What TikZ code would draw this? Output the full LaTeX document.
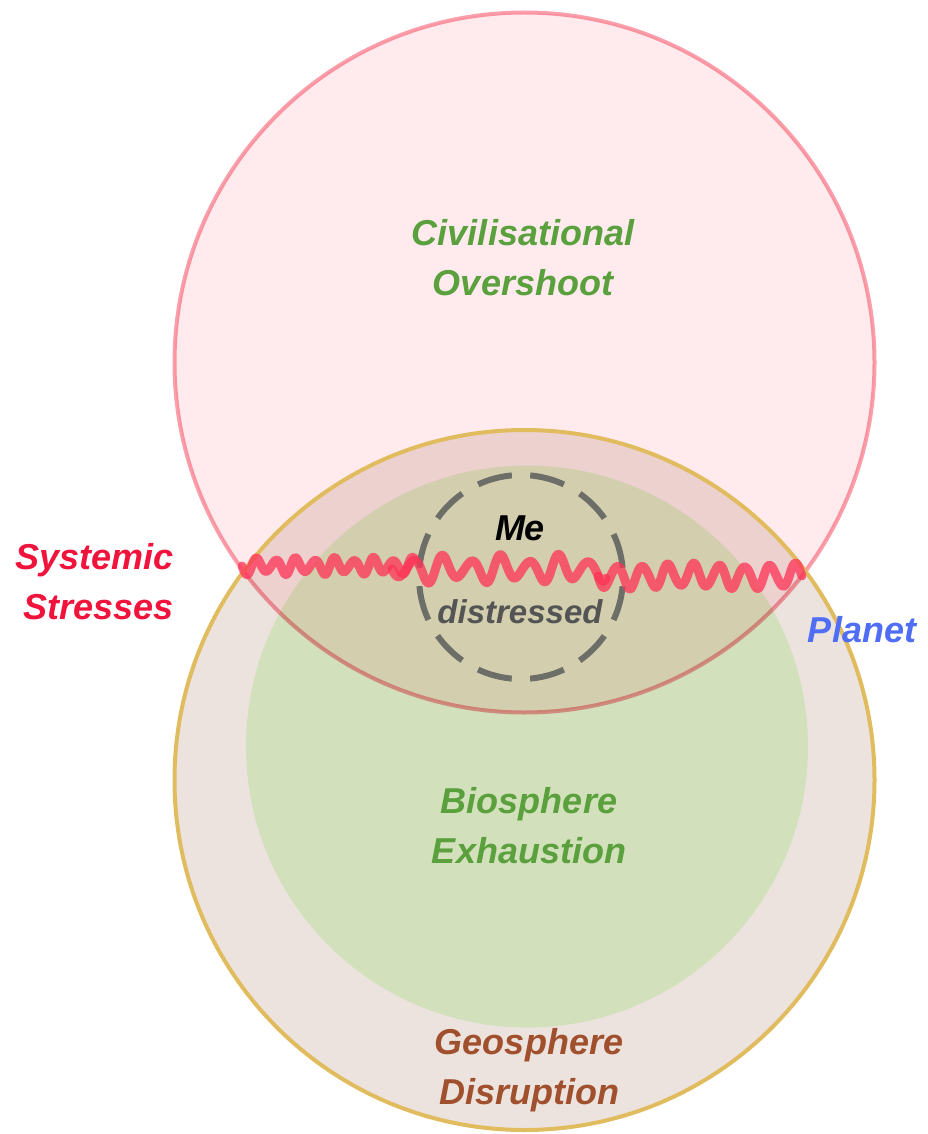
\documentclass[tikz,border=0pt]{standalone}
\usepackage{fontspec}
\setmainfont{Liberation Sans}
\definecolor{civpink}{RGB}{255,235,237}
\definecolor{civline}{RGB}{250,160,172}
\definecolor{geotan}{RGB}{236,227,222}
\definecolor{geogold}{RGB}{225,188,95}
\definecolor{biogreen}{RGB}{211,224,188}
\definecolor{labgreen}{RGB}{90,160,60}
\definecolor{labred}{RGB}{240,20,60}
\definecolor{labblue}{RGB}{80,110,245}
\definecolor{labbrown}{RGB}{160,80,45}
\definecolor{megray}{RGB}{110,110,105}
\definecolor{stressred}{RGB}{255,50,85}
\begin{document}
\begin{tikzpicture}[x=1pt,y=-1pt]
\tikzset{
    sphere label/.style={font=\fontsize{36}{50}\selectfont\bfseries\itshape, align=center, inner sep=0pt},
    civ circle/.style={fill=civpink, draw=civline, line width=4pt},
    geo circle/.style={fill=geotan},
    geo rim/.style={draw=geogold, line width=4pt},
    bio circle/.style={fill=biogreen},
    me circle/.style={draw=megray, line width=6pt, dash pattern=on 35pt off 18.4pt, dash phase=44.2pt},
    stress/.style={draw=stressred, draw opacity=.75, line width=9pt, line cap=round, line join=round}}
\def\rbig{350pt}
\def\rbio{281pt}
\def\rme{102pt}

\useasboundingbox (0,0) rectangle (927,1134);

\coordinate (civ) at (524.5,362.5);
\coordinate (geo) at (524.5,780);
\coordinate (bio) at (527,746.5);
\coordinate (me) at (521,577);

% spheres
\path[geo circle] (geo) circle[radius=\rbig];
\path[bio circle] (bio) circle[radius=\rbio];
\begin{scope}[blend mode=multiply]
\path[civ circle] (civ) circle[radius=\rbig];
\end{scope}
\path[geo rim] (geo) circle[radius=\rbig];

% me
\path[me circle] (me) circle[radius=\rme];

% systemic stresses
\draw[stress] plot[domain=242:415, samples=180, smooth] (\x, {566+(7+2*sin(\x*9))*sin((\x-242)/19.5*360)});
\draw[stress] plot[domain=392:606, samples=220, smooth] (\x, {569+(11+4*sin(\x*6))*sin((\x-392)/29*360)});
\draw[stress] plot[domain=598:802, samples=220, smooth] (\x, {576+(11+2*sin(\x*11))*sin((\x-598)/25.5*360)});

% labels
\node[sphere label, text=labgreen] (civtext) at (523,258) {Civilisational\\Overshoot};
\node[sphere label, text=labgreen] (biotext) at (529,826) {Biosphere\\Exhaustion};
\node[sphere label, text=labbrown] (geotext) at (529,1070) {Geosphere\\Disruption};
\node[sphere label, text=labred, align=right, anchor=east] (stresstext) at (174,582) {Systemic\\Stresses};
\node[sphere label, text=labblue] (planettext) at (862,630) {Planet};
\node[sphere label, text=black] (metext) at (520,528) {Me};
\node[sphere label, font=\fontsize{33}{40}\selectfont\bfseries\itshape, text=black!67] (distresstext) at (520,612) {distressed};
\end{tikzpicture}
\end{document}
